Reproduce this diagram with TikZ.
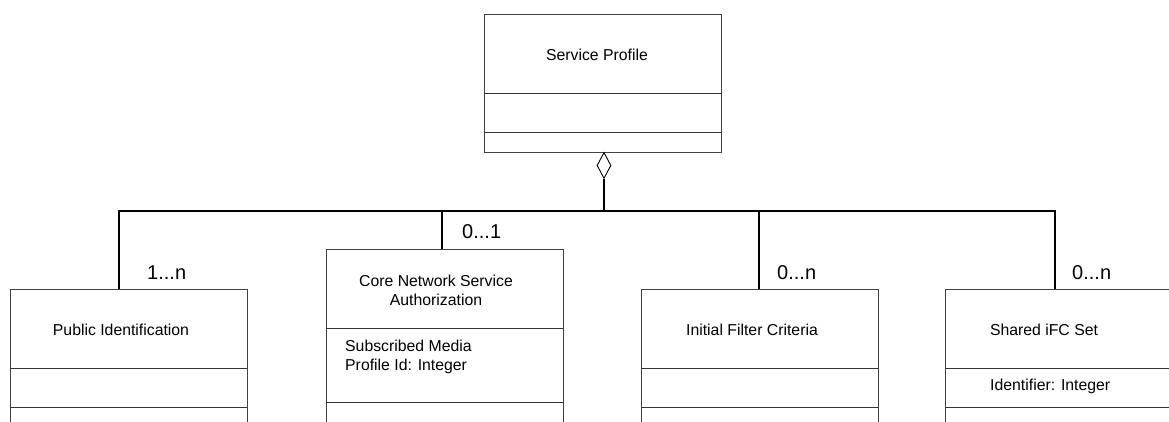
\documentclass[tikz,border=0pt]{standalone}
\usepackage{fontspec}
\setmainfont{Liberation Sans}
\usetikzlibrary{shapes.geometric}
\begin{document}
\begin{tikzpicture}[x=1pt,y=-1pt,
  classbox/.style={draw=black!75,line width=0.9pt,rectangle,minimum width=237pt,inner sep=0pt,anchor=north west},
  divider/.style={draw=black!80,line width=0.9pt},
  conn/.style={draw=black,line width=1.8pt},
  title/.style={font=\fontsize{15.8}{19}\selectfont,inner sep=0pt,align=center},
  attr/.style={font=\fontsize{15.8}{19.5}\selectfont,inner sep=0pt,align=left,anchor=west},
  mult/.style={font=\fontsize{20}{24}\selectfont,inner sep=0pt,anchor=west}]
\useasboundingbox (0,0) rectangle (1169,422);
\clip (0,0) rectangle (1169,422);
% Service Profile
\node[classbox,minimum height=138pt] (sp) at (484,14) {};
\draw[divider] (484,93) -- (721,93);
\draw[divider] (484,132) -- (721,132);
\node[title] (spt) at (597,55) {Service Profile};
\node[draw=black,line width=0.9pt,fill=white,shape=diamond,minimum width=14pt,minimum height=26pt,inner sep=0pt,anchor=north] (dia) at (604,152) {};
% Public Identification
\node[classbox,minimum height=160pt] (pi) at (10,289) {};
\draw[divider] (10,368) -- (247,368);
\draw[divider] (10,407) -- (247,407);
\node[title] (pit) at (121,330) {Public Identification};
% Core Network Service Authorization
\node[classbox,minimum height=200pt] (cn) at (326,249) {};
\draw[divider] (326,328) -- (563,328);
\draw[divider] (326,402) -- (563,402);
\node[title] (cnt) at (436,290) {Core Network Service\\Authorization};
\node[attr] (cna) at (345,357) {Subscribed Media\\Profile Id: Integer};
% Initial Filter Criteria
\node[classbox,minimum height=160pt] (ifc) at (641,289) {};
\draw[divider] (641,368) -- (878,368);
\draw[divider] (641,407) -- (878,407);
\node[title] (ifct) at (752,330) {Initial Filter Criteria};
% Shared iFC Set
\node[classbox,minimum height=160pt] (sh) at (945,289) {};
\draw[divider] (945,368) -- (1182,368);
\draw[divider] (945,407) -- (1182,407);
\node[title] (sht) at (1044,330) {Shared iFC Set};
\node[attr] (sha) at (990,386) {Identifier: Integer};
% connection points
\coordinate (bus) at (0,211);
\coordinate (pic) at (119,289);
\coordinate (cnc) at (442,249);
\coordinate (ifcc) at (759,289);
\coordinate (shc) at (1055,289);
\draw[conn] (dia.south) -- (dia.south |- bus);
\draw[conn] (pic) -- (pic |- bus) -- (shc |- bus) -- (shc);
\draw[conn] (cnc |- bus) -- (cnc);
\draw[conn] (ifcc |- bus) -- (ifcc);
% multiplicities
\node[mult] (m1) at (147,273) {1...n};
\node[mult] (m2) at (462,232) {0...1};
\node[mult] (m3) at (777,273) {0...n};
\node[mult] (m4) at (1072,273) {0...n};
\end{tikzpicture}
\end{document}
